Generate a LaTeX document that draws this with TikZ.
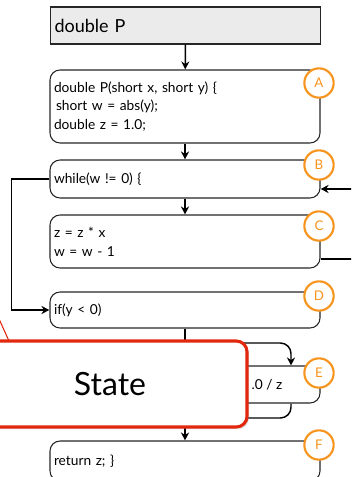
\documentclass[tikz,border=0pt]{standalone}
\usepackage{fontspec}
\setmainfont{Lato}
\usetikzlibrary{calc,shadows,arrows.meta}
\definecolor{markorange}{HTML}{F7941D}
\definecolor{callred}{HTML}{E2270F}
\definecolor{headgray}{HTML}{EBEBEB}
\begin{document}
\begin{tikzpicture}[x=0.75pt,y=-0.75pt,
  codebox/.style={draw=black!85, line width=0.8pt, rounded corners=7.5pt, fill=white, align=left,
    text width=196.5pt, inner sep=3pt, font=\fontsize{10.3pt}{14pt}\selectfont},
  headbox/.style={draw=black!85, line width=0.8pt, fill=headgray, align=left,
    text width=196.5pt, inner sep=3pt, minimum height=27.75pt, font=\fontsize{13.5pt}{16pt}\selectfont},
  letter/.style={circle, draw=markorange, line width=1.6pt, fill=white, text=markorange,
    minimum size=22pt, inner sep=0pt, font=\fontsize{10pt}{12pt}\selectfont},
  flow/.style={line width=1.1pt, -{Stealth[length=6pt,width=6pt]}},
  plain/.style={line width=1.1pt},
  statebox/.style={draw=callred, line width=2.3pt, rounded corners=8pt, fill=white,
    minimum width=205.5pt, minimum height=64.5pt, font=\fontsize{24pt}{26pt}\selectfont,
    drop shadow={opacity=0.25, shadow xshift=1.5pt, shadow yshift=-1.5pt}}]
\useasboundingbox (0,0) rectangle (351,477);
\clip (0,0) rectangle (351,477);

% blocks
\node[headbox] (head) at (185.5,25.5) {double P};
\node[codebox, minimum height=54.75pt] (A) at (185,106.5) {double P(short x, short y) \{\\\hspace*{1.5pt}short w = abs(y);\\double z = 1.0;};
\node[codebox, minimum height=28.5pt] (B) at (185,179) {while(w != 0) \{};
\node[codebox, minimum height=39.75pt] (C) at (185,241.5) {z = z * x\\w = w - 1};
\node[codebox, minimum height=27pt] (D) at (185,310) {if(y < 0)};
\node[codebox, minimum height=27.75pt] (E) at (185,384.5) {};
\node[anchor=west, font=\fontsize{10.3pt}{14pt}\selectfont] (Etext) at (247,385) {.0 / z};
\node[codebox, minimum height=30pt] (F) at (185,461) {return z; \}};

% markers
\node[letter] (la) at (319,83) {A};
\node[letter] (lb) at (319,165) {B};
\node[letter] (lc) at (319,226) {C};
\node[letter] (ld) at (319,296) {D};
\node[letter] (le) at (319,373) {E};
\node[letter] (lf) at (319,445) {F};

% edges
\draw[flow] (head) -- (A);
\draw[flow] (A) -- (B);
\draw[flow] (B) -- (C);
\draw[flow] (B.west) -- ++(-38,0) |- (D.west);
\draw[flow] ($(C.east)+(0,17.5)$) -- ++(60,0) |- ($(B.east)+(0,10)$);
\draw[flow] (D) -- (F);
\coordinate (split) at (185,343);
\coordinate (join) at (185,418);
\draw[flow, rounded corners=8pt] (split) -| ($(E.north)+(106,0)$);
\draw[plain, rounded corners=8pt] ($(E.south)+(106,0)$) |- (join);

% callout
\draw[callred, line width=0.8pt, fill=white] (9,341) -- (-60,188) -- (-30,341);
\node[statebox] (state) at (110,384) {State};
\end{tikzpicture}
\end{document}
